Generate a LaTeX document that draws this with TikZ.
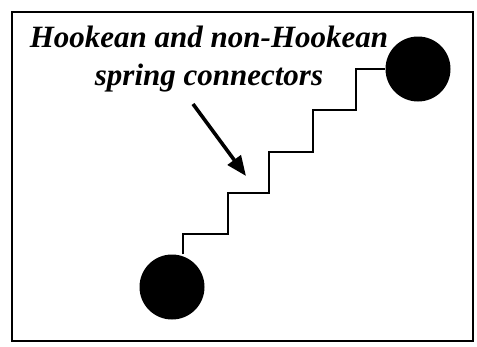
\documentclass[tikz,border=0pt]{standalone}
\usepackage{fontspec}
\setmainfont{Liberation Serif}
\usetikzlibrary{arrows.meta}
\begin{document}
\begin{tikzpicture}[x=1pt,y=-1pt,
  ball/.style={circle,fill=black,minimum size=65pt,inner sep=0pt},
  spring/.style={line width=2.4pt},
  pointer/.style={line width=3.6pt,-{Triangle[length=20pt,width=16pt]}},
  frame/.style={line width=2pt},
  caption/.style={font=\fontsize{31}{38}\selectfont\bfseries\itshape,align=center,inner sep=0pt}]
\useasboundingbox (0,0) rectangle (477,346);
\draw[frame] (12,12) rectangle (473,341);
\node[ball] (top) at (418,69) {};
\node[ball] (bot) at (172,287) {};
\draw[spring] (bot.north -| 183,0) |- (228,234) |- (269,193) |- (313,152) |- (356,110) |- (top.west);
\node[caption] (lbl) at (209,59) {Hookean and non-Hookean\\spring connectors};
\coordinate (a1) at (193,104);
\coordinate (a2) at (246,176);
\draw[pointer] (a1) -- (a2);
\end{tikzpicture}
\end{document}
